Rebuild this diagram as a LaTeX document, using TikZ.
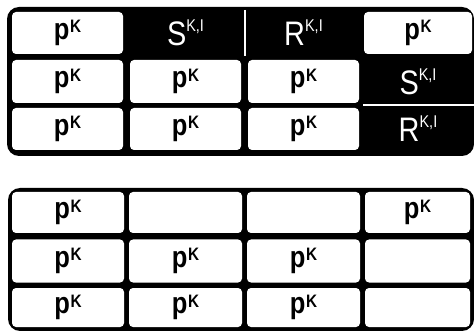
\documentclass[tikz,border=0pt]{standalone}
\usepackage{fontspec}
\newfontfamily\hand[FakeStretch=0.85]{Liberation Sans}
\newcommand{\pK}{{\hand\bfseries\fontsize{30}{30}\selectfont p\kern0.5pt\raisebox{0.22em}{\fontsize{18}{18}\selectfont K}}}
\newcommand{\SK}{{\hand\fontsize{34}{34}\selectfont S\raisebox{0.42em}{\fontsize{17}{17}\selectfont K,I}}}
\newcommand{\RK}{{\hand\fontsize{34}{34}\selectfont R\raisebox{0.42em}{\fontsize{17}{17}\selectfont K,I}}}
\tikzset{
  cell/.style={fill=white, rounded corners=4pt, inner sep=0pt, text=black},
  dark/.style={inner sep=0pt, text=white},
  frame/.style={fill=black, rounded corners=12pt},
}
\begin{document}
\begin{tikzpicture}[x=1pt,y=-1pt]
\useasboundingbox (0,0) rectangle (474,331);
\fill[white] (0,0) rectangle (474,331);
% ---------- top table ----------
\path[frame] (7,7) rectangle (474,156);
\draw[white, line width=2pt] (245,10) -- (245,56);
\draw[white, line width=2pt] (363,105) -- (474,105);
% row 1
\node[cell, minimum width=111pt, minimum height=42pt] (t11) at (67.5,33) {\pK};
\node[dark] (t12) at (185.5,33) {\SK};
\node[dark] (t13) at (303.5,33) {\RK};
\node[cell, minimum width=108pt, minimum height=42pt] (t14) at (418,33) {\pK};
% row 2
\node[cell, minimum width=111pt, minimum height=43pt] (t21) at (67.5,81.5) {\pK};
\node[cell, minimum width=111pt, minimum height=43pt] (t22) at (185.5,81.5) {\pK};
\node[cell, minimum width=111pt, minimum height=43pt] (t23) at (303.5,81.5) {\pK};
\node[dark] (t24) at (418,81.5) {\SK};
% row 3
\node[cell, minimum width=111pt, minimum height=42pt] (t31) at (67.5,129) {\pK};
\node[cell, minimum width=111pt, minimum height=42pt] (t32) at (185.5,129) {\pK};
\node[cell, minimum width=111pt, minimum height=42pt] (t33) at (303.5,129) {\pK};
\node[dark] (t34) at (418,129) {\RK};
% ---------- bottom table ----------
\path[frame] (8,188) rectangle (474,331);
% row 1
\node[cell, minimum width=112pt, minimum height=41pt] (b11) at (68,212.5) {\pK};
\node[cell, minimum width=113pt, minimum height=41pt] (b12) at (185.5,212.5) {};
\node[cell, minimum width=113pt, minimum height=41pt] (b13) at (303.5,212.5) {};
\node[cell, minimum width=105pt, minimum height=41pt] (b14) at (417.5,212.5) {\pK};
% row 2
\node[cell, minimum width=112pt, minimum height=43pt] (b21) at (68,261) {\pK};
\node[cell, minimum width=113pt, minimum height=43pt] (b22) at (185.5,261) {\pK};
\node[cell, minimum width=113pt, minimum height=43pt] (b23) at (303.5,261) {\pK};
\node[cell, minimum width=105pt, minimum height=43pt] (b24) at (417.5,261) {};
% row 3
\node[cell, minimum width=112pt, minimum height=39pt] (b31) at (68,307.5) {\pK};
\node[cell, minimum width=113pt, minimum height=39pt] (b32) at (185.5,307.5) {\pK};
\node[cell, minimum width=113pt, minimum height=39pt] (b33) at (303.5,307.5) {\pK};
\node[cell, minimum width=105pt, minimum height=39pt] (b34) at (417.5,307.5) {};
\end{tikzpicture}
\end{document}
